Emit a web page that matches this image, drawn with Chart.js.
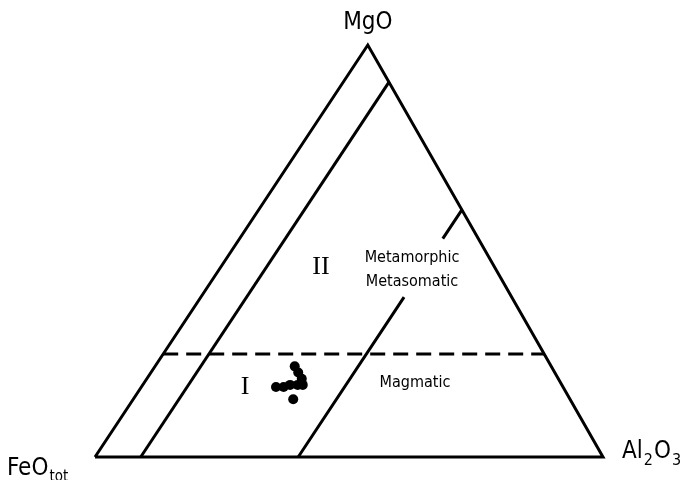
<!DOCTYPE html>
<html>
<head>
<meta charset="utf-8">
<script src="https://cdn.jsdelivr.net/npm/chart.js@4"></script>
<style>
  html, body { margin: 0; padding: 0; background: #fff; }
  #wrap { width: 682px; height: 480px; }
</style>
</head>
<body>
<div id="wrap"><canvas id="ternary" width="682" height="480"></canvas></div>
<script>
// TERNARY DATA (wt %)

const apexLabels = ["MgO", "FeO", "Al2O3"];

// analysed samples
const sampleMgO   = [17, 17, 17.5, 14, 22, 20.5, 19, 17.5, 17.5];
const sampleFeO   = [56.5, 55, 53.5, 54.5, 50.5, 50.5, 50.5, 52, 51];
const sampleAl2O3 = [26.5, 28, 29, 31.5, 27.5, 29, 30.5, 30.5, 31.5];

// field boundaries: constant Al2O3 lines and the MgO = 25 % divide
const boundaryAl2O3 = [9, 40];
const magmaticMgO = 25;
// the 40 % line is broken where the field name sits (MgO range of the gap)
const labelGapMgO = [38.8, 53];

// the scanned triangle leans a bit: apex sits at 0.537 of the base
const apexX = 0.537;

function toXY(mg, fe, al) {
  const s = mg + fe + al;
  return { x: (al + apexX * mg) / s, y: mg / s };
}

const outline = [toXY(0, 100, 0), toXY(0, 0, 100), toXY(100, 0, 0), toXY(0, 100, 0)];

const innerLine = [
  toXY(0, 100 - boundaryAl2O3[0], boundaryAl2O3[0]),
  toXY(100 - boundaryAl2O3[0], 0, boundaryAl2O3[0])
];

const al40 = boundaryAl2O3[1];
const fieldLine = [
  toXY(0, 100 - al40, al40),
  toXY(labelGapMgO[0], 100 - al40 - labelGapMgO[0], al40),
  { x: NaN, y: NaN },
  toXY(labelGapMgO[1], 100 - al40 - labelGapMgO[1], al40),
  toXY(100 - al40, 0, al40)
];

const divideLine = [
  toXY(magmaticMgO, 100 - magmaticMgO, 0),
  toXY(magmaticMgO, 0, 100 - magmaticMgO)
];

const samples = sampleMgO.map((mg, i) => toXY(mg, sampleFeO[i], sampleAl2O3[i]));

const lineStyle = {
  showLine: true,
  pointRadius: 0,
  borderColor: "#000",
  borderWidth: 3,
  fill: false,
  spanGaps: false,
  clip: false
};

// LABELS

const labelFont = '"DejaVu Sans Condensed", "Liberation Sans Narrow", "Roboto", sans-serif';

const textPlugin = {
  id: "ternaryText",
  afterDraw(chart) {
    const ctx = chart.ctx;
    const xs = chart.scales.x, ys = chart.scales.y;
    const px = v => xs.getPixelForValue(v);
    const py = v => ys.getPixelForValue(v);

    ctx.save();
    ctx.fillStyle = "#000";
    ctx.textBaseline = "alphabetic";

    // apex MgO
    ctx.font = "24px " + labelFont;
    ctx.textAlign = "center";
    ctx.fillText(apexLabels[0], px(apexX), py(1) - 16);

    // FeO tot
    ctx.textAlign = "left";
    let x = px(0) - 88;
    let y = py(0) + 18;
    ctx.font = "24px " + labelFont;
    ctx.fillText("FeO", x, y);
    x += ctx.measureText("FeO").width + 1;
    ctx.font = "15px " + labelFont;
    ctx.fillText("tot", x, y + 6);

    // Al2O3
    x = px(1) + 19;
    y = py(0) + 1;
    const parts = [["Al", false], ["2", true], ["O", false], ["3", true]];
    parts.forEach(p => {
      ctx.font = (p[1] ? "16px " : "24px ") + labelFont;
      ctx.fillText(p[0], x, p[1] ? y + 7 : y);
      x += ctx.measureText(p[0]).width + 1;
    });

    // field names
    ctx.textAlign = "center";
    ctx.font = "16px " + labelFont;
    ctx.fillText("Metamorphic", 412, 262);
    ctx.fillText("Metasomatic", 412, 286);
    ctx.fillText("Magmatic", 415, 387);

    // roman numerals
    ctx.font = "26px \"Liberation Serif\", serif";
    ctx.fillText("II", 321, 274);
    ctx.fillText("I", 245, 394);

    ctx.restore();
  }
};

new Chart(document.getElementById("ternary"), {
  type: "scatter",
  data: {
    datasets: [
      Object.assign({ data: outline }, lineStyle),
      Object.assign({ data: innerLine }, lineStyle),
      Object.assign({ data: fieldLine }, lineStyle),
      Object.assign({ data: divideLine, borderDash: [15, 8] }, lineStyle),
      {
        data: samples,
        pointRadius: 5,
        pointBackgroundColor: "#000",
        pointBorderColor: "#000",
        pointBorderWidth: 0,
        showLine: false,
        clip: false
      }
    ]
  },
  options: {
    responsive: false,
    animation: false,
    layout: { padding: { left: 95, right: 79, top: 45, bottom: 23 } },
    plugins: {
      legend: { display: false },
      tooltip: { enabled: false }
    },
    scales: {
      x: { type: "linear", min: 0, max: 1, display: false },
      y: { type: "linear", min: 0, max: 1, display: false }
    }
  },
  plugins: [textPlugin]
});
</script>
</body>
</html>
